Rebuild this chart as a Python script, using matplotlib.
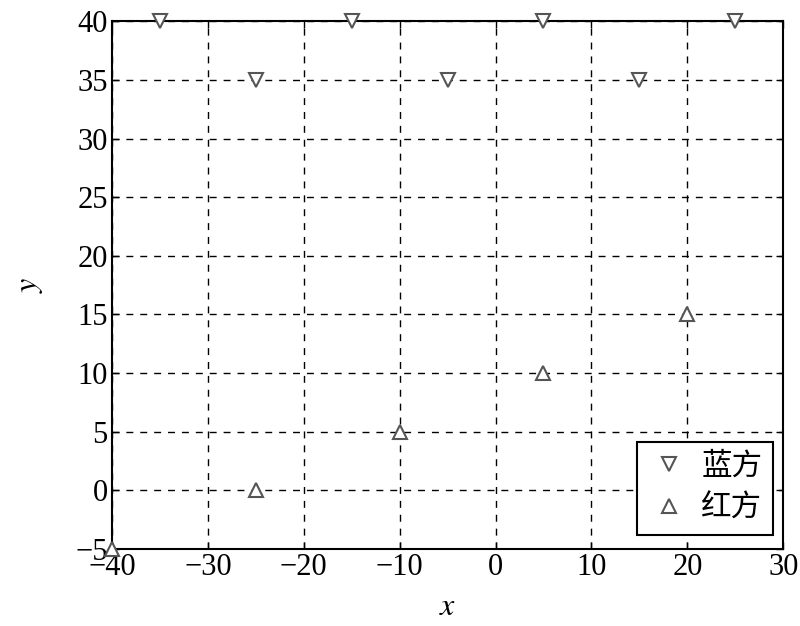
import matplotlib
matplotlib.use("Agg")
import matplotlib.pyplot as plt

blue_x = [-35, -15, 5, 25, -25, -5, 15]
blue_y = [40, 40, 40, 40, 35, 35, 35]
red_x = [-40, -25, -10, 5, 20]
red_y = [-5, 0, 5, 10, 15]
xticks = [-40, -30, -20, -10, 0, 10, 20, 30]
yticks = [-5, 0, 5, 10, 15, 20, 25, 30, 35, 40]
labels = ["蓝方", "红方"]

plt.rcParams['font.family'] = ['Liberation Serif', 'Noto Sans CJK SC']
plt.rcParams['mathtext.fontset'] = 'stix'

fig = plt.figure(figsize=(8, 6.26), dpi=100)
ax = fig.add_axes([0.14, 0.123, 0.839, 0.843])

mc = '#555555'
ax.plot(blue_x, blue_y, linestyle='none', marker='v', markersize=10,
        markerfacecolor='white', markeredgecolor=mc, markeredgewidth=1.5,
        clip_on=False, zorder=5, label=labels[0])
ax.plot(red_x, red_y, linestyle='none', marker='^', markersize=10,
        markerfacecolor='white', markeredgecolor=mc, markeredgewidth=1.5,
        clip_on=False, zorder=5, label=labels[1])

ax.set_xlim(-40, 30)
ax.set_ylim(-5, 40)
ax.set_xticks(xticks)
ax.set_yticks(yticks)
ax.set_xticklabels([("\u2212" + str(-t)) if t < 0 else str(t) for t in xticks])
ax.set_yticklabels([("\u2212" + str(-t)) if t < 0 else str(t) for t in yticks])
ax.tick_params(direction='in', length=5, width=1, labelsize=22, top=True, right=True, pad=3)
ax.grid(True, linestyle=(0, (5, 5)), color='black', linewidth=1)
for s in ax.spines.values():
    s.set_linewidth(1.5)

ax.set_xlabel('$x$', fontsize=23, labelpad=8)
ax.set_ylabel('$y$', fontsize=23, labelpad=22)

leg = ax.legend(loc='lower right', numpoints=1, fontsize=22, fancybox=False,
                edgecolor='black', framealpha=1, borderpad=0.35,
                handletextpad=0.4, handlelength=1.35, labelspacing=0.45,
                borderaxespad=0, bbox_to_anchor=(0.985, 0.027))
leg.get_frame().set_linewidth(1.5)

fig.savefig('out.png', dpi=100)
